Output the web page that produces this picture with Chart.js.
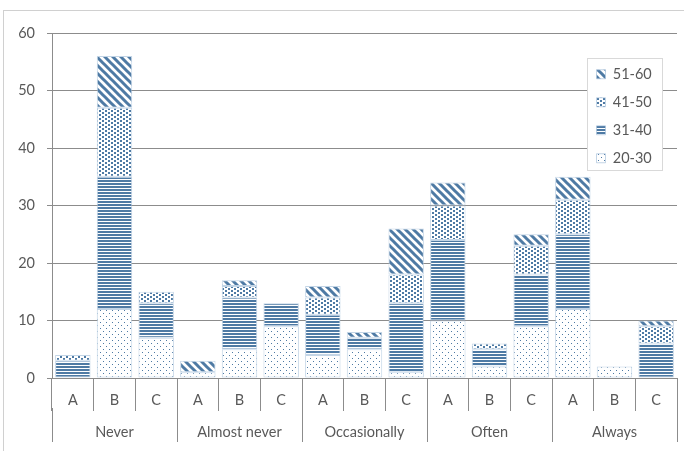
<!DOCTYPE html>
<html>
<head>
<meta charset="utf-8">
<script src="https://cdn.jsdelivr.net/npm/chart.js@4.4.1/dist/chart.umd.min.js"></script>
<style>
  html, body { margin: 0; padding: 0; background: #fff; }
  #wrap { width: 684px; height: 451px; }
</style>
</head>
<body>
<div id="wrap"><canvas id="chart" width="684" height="451"></canvas></div>
<script>
// answer groups and the three sub-groups inside each
const groups = ['Never', 'Almost never', 'Occasionally', 'Often', 'Always'];
const subGroups = ['A', 'B', 'C'];

// age bands (Never A..C, Almost never A..C, ...)
const age20to30 = [0, 12, 7, 1, 5, 9, 4, 5, 1, 10, 2, 9, 12, 2, 0];
const age31to40 = [3, 23, 6, 0, 9, 4, 7, 2, 12, 14, 3, 9, 13, 0, 6];
const age41to50 = [1, 12, 2, 0, 2, 0, 3, 0, 5, 6, 1, 5, 6, 0, 3];
const age51to60 = [0, 9, 0, 2, 1, 0, 2, 1, 8, 4, 0, 2, 4, 0, 1];

const yTicks = [0, 10, 20, 30, 40, 50, 60];

const BLUE = '#4e7aa4';
const GRID = '#8c8c8c';
const TEXT = '#595959';
const FONT = { family: 'Lato, "Open Sans", sans-serif', size: 14.5 };

// little tiles used as fill patterns
function makePattern(w, h, paint) {
  const c = document.createElement('canvas');
  c.width = w; c.height = h;
  const g = c.getContext('2d');
  g.fillStyle = '#fff';
  g.fillRect(0, 0, w, h);
  g.fillStyle = BLUE;
  g.strokeStyle = BLUE;
  paint(g);
  return g.createPattern(c, 'repeat');
}

const ctx = document.getElementById('chart').getContext('2d');

const sparseDots = makePattern(6, 6, g => {
  g.fillRect(1, 1, 1, 1);
  g.fillRect(4, 4, 1, 1);
});
const hLines = makePattern(4, 3, g => {
  g.fillRect(0, 0, 4, 2);
});
const denseDots = makePattern(6, 4, g => {
  g.fillRect(0, 0, 2, 2);
  g.fillRect(3, 2, 2, 2);
});
const diagonal = makePattern(8, 8, g => {
  g.lineWidth = 3;
  g.beginPath();
  g.moveTo(-2, -2); g.lineTo(10, 10);
  g.moveTo(-10, -2); g.lineTo(2, 10);
  g.moveTo(6, -2); g.lineTo(18, 10);
  g.stroke();
});

const labels = groups.flatMap(() => subGroups);

function band(label, data, fill) {
  return {
    label: label,
    data: data,
    backgroundColor: fill,
    borderColor: 'rgba(170,195,220,0.7)',
    borderWidth: 1,
    borderSkipped: false,
    barPercentage: 0.85,
    categoryPercentage: 1
  };
}

// puts the legend inside the plot, on a white framed box
const legendFrame = {
  id: 'legendFrame',
  beforeDraw(chart) {
    const lg = chart.legend;
    const h = lg.height;
    lg.left = 583; lg.top = 53.5;
    lg.right = lg.left + lg.width; lg.bottom = lg.top + h;
    if (!lg._framed) {
      const orig = lg.draw;
      lg.draw = function (area) {
        const c = this.ctx;
        c.save();
        c.fillStyle = '#fff';
        c.strokeStyle = '#d9d9d9';
        c.lineWidth = 1;
        c.fillRect(587.5, 58.5, 75, 112);
        c.strokeRect(587.5, 58.5, 75, 112);
        c.restore();
        orig.call(this, area);
      };
      lg._framed = true;
    }
  },
  afterDraw(chart) {
    // outer chart frame
    const c = chart.ctx;
    c.save();
    c.strokeStyle = '#d0d0d0';
    c.lineWidth = 1;
    c.strokeRect(3.5, 10.5, 800, 600);
    c.restore();
  }
};

new Chart(ctx, {
  type: 'bar',
  data: {
    labels: labels,
    datasets: [
      band('20-30', age20to30, sparseDots),
      band('31-40', age31to40, hLines),
      band('41-50', age41to50, denseDots),
      band('51-60', age51to60, diagonal)
    ]
  },
  plugins: [legendFrame],
  options: {
    responsive: false,
    animation: false,
    layout: { padding: { left: 0, right: 7, top: 33, bottom: 0 } },
    plugins: {
      tooltip: { enabled: false },
      legend: {
        position: 'chartArea',
        align: 'start',
        reverse: true,
        labels: {
          boxWidth: 9,
          boxHeight: 9,
          padding: 13.5,
          color: TEXT,
          font: FONT
        }
      }
    },
    scales: {
      x: {
        stacked: true,
        position: 'bottom',
        weight: 0,
        offset: true,
        grid: { offset: true, drawOnChartArea: false, drawTicks: true, tickLength: 33, color: GRID },
        border: { display: true, color: GRID },
        ticks: { color: TEXT, font: FONT, padding: -19.5, maxRotation: 0, autoSkip: false },
        afterFit: s => { s.height = 30; }
      },
      x2: {
        type: 'category',
        labels: groups,
        position: 'bottom',
        weight: 1,
        offset: true,
        grid: { offset: true, drawOnChartArea: false, drawTicks: true, tickLength: 34, color: GRID },
        border: { display: false },
        ticks: { color: TEXT, font: FONT, padding: -18.5, maxRotation: 0, autoSkip: false },
        afterFit: s => { s.height = 43; }
      },
      y: {
        stacked: true,
        min: yTicks[0],
        max: yTicks[yTicks.length - 1],
        afterBuildTicks: s => { s.ticks = yTicks.map(v => ({ value: v })); },
        grid: { color: GRID, tickLength: 5 },
        border: { display: true, color: GRID },
        ticks: { color: TEXT, font: FONT, padding: 12 },
        afterFit: s => { s.width = 52; }
      }
    }
  }
});
</script>
</body>
</html>
